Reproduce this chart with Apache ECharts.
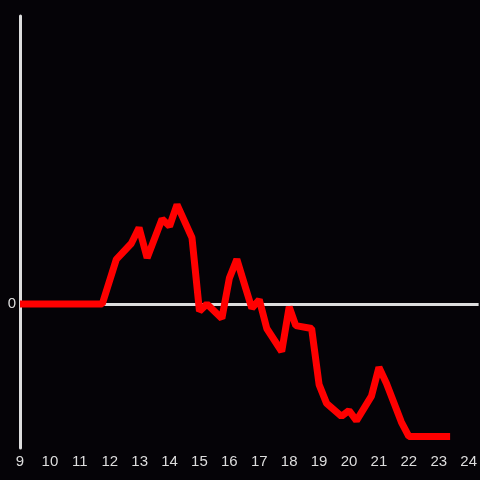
<!DOCTYPE html>
<html>
<head>
<meta charset="utf-8">
<script src="https://cdn.jsdelivr.net/npm/echarts@6/dist/echarts.min.js"></script>
<style>
  html, body { margin: 0; padding: 0; background: #050307; }
  #chart { width: 480px; height: 480px; }
</style>
</head>
<body>
<div id="chart"></div>
<script>
// hour of day and value
const hours = [9.0, 11.75, 12.22, 12.72, 12.98, 13.25, 13.75, 14.0, 14.25, 14.75, 15.0,
  15.25, 15.75, 16.0, 16.25, 16.75, 17.0, 17.25, 17.75, 18.0, 18.22, 18.75,
  19.0, 19.25, 19.75, 20.0, 20.25, 20.75, 21.0, 21.25, 21.75, 22.0, 23.38];
const values = [0, 0, 0.31, 0.42, 0.53, 0.32, 0.59, 0.54, 0.69, 0.46, -0.05,
  0, -0.1, 0.18, 0.31, -0.03, 0.03, -0.17, -0.33, -0.02, -0.15, -0.17,
  -0.56, -0.69, -0.78, -0.74, -0.81, -0.64, -0.44, -0.55, -0.82, -0.92, -0.92];
const yLabels = [0];

let chart = echarts.init(document.getElementById('chart'));

let option = {
  backgroundColor: '#050307',
  animation: false,
  grid: { left: 20, right: 0, top: 16, bottom: 32 },
  xAxis: {
    type: 'value',
    min: 9,
    max: 24.333,
    interval: 1,
    axisLine: { show: false },
    axisTick: { show: false },
    splitLine: { show: false },
    axisLabel: {
      color: '#dddddd',
      fontSize: 15,
      fontFamily: 'Liberation Sans',
      margin: 6,
      showMaxLabel: false
    }
  },
  yAxis: {
    type: 'value',
    min: -1,
    max: 2,
    interval: 1,
    axisLine: { show: true, onZero: false, lineStyle: { color: '#dddddd', width: 3 } },
    axisTick: { show: false },
    splitLine: { show: false },
    axisLabel: {
      color: '#dddddd',
      fontSize: 15,
      fontFamily: 'Liberation Sans',
      margin: 4,
      formatter: v => yLabels.includes(v) ? String(v) : ''
    }
  },
  series: [{
    type: 'line',
    data: hours.map((h, i) => [h, values[i]]),
    showSymbol: false,
    lineStyle: { color: '#ff0000', width: 7 },
    markLine: {
      silent: true,
      symbol: 'none',
      label: { show: false },
      lineStyle: { color: '#dddddd', width: 3, type: 'solid' },
      data: [{ yAxis: 0 }],
      z: 1
    }
  }]
};

chart.setOption(option);
</script>
</body>
</html>
